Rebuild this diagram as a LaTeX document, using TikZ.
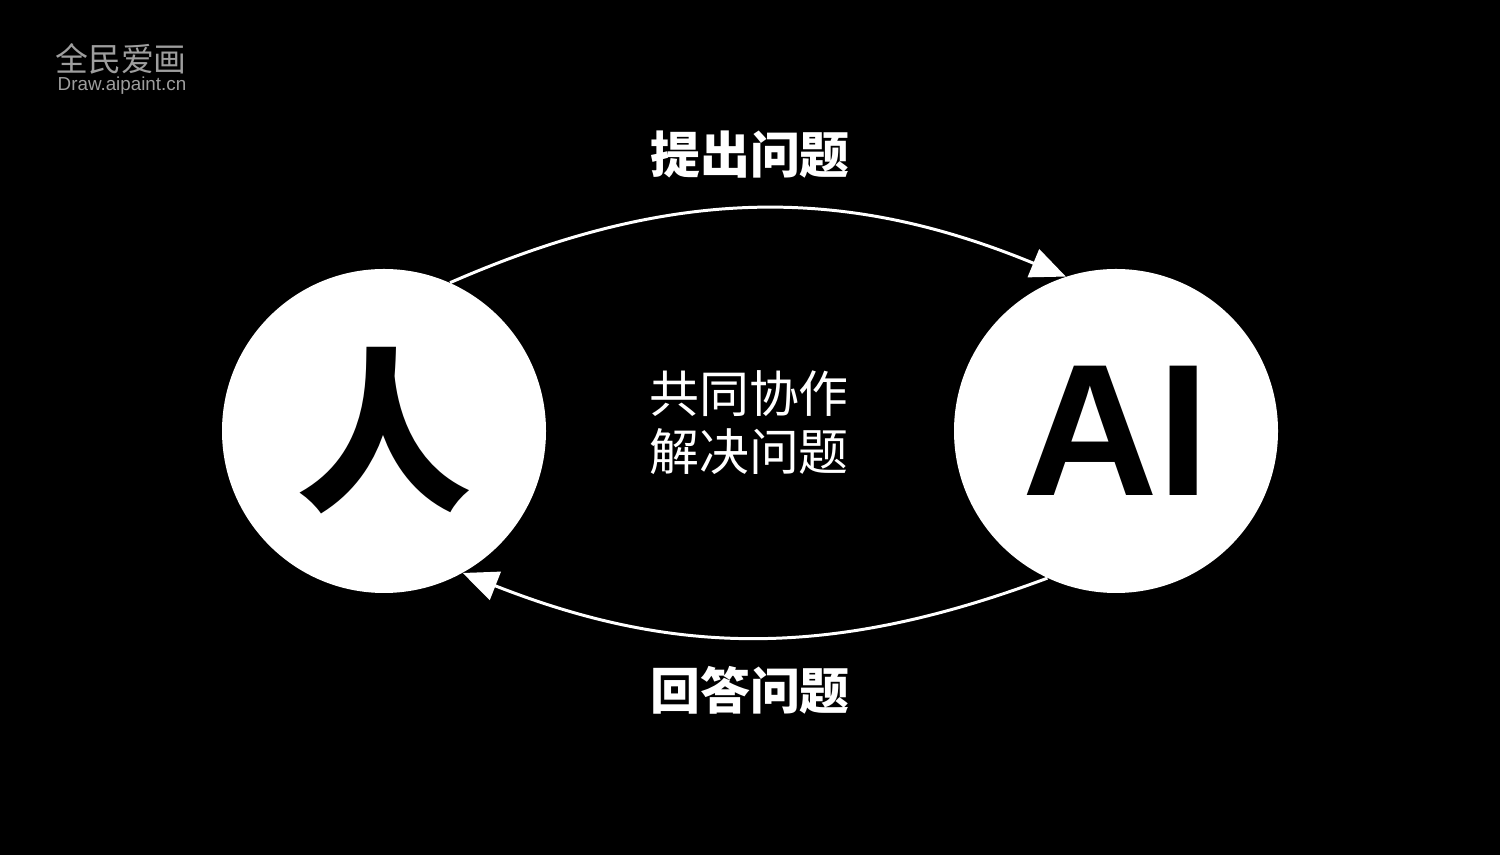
\documentclass[tikz,border=0pt]{standalone}
\usepackage{fontspec}
\setmainfont{Liberation Sans}
\newfontfamily\cjk{Noto Sans CJK SC}
\usetikzlibrary{arrows.meta}

\begin{document}
\begin{tikzpicture}[
	bigcircle/.style={shape=circle,fill=white,inner sep=0pt,minimum size=6.48cm},
	flow/.style={draw=white,line width=1.7pt,-{Triangle[length=20pt,width=17pt,fill=white]}},
	flowlabel/.style={text=white,font=\cjk\bfseries\fontsize{28.4}{34}\selectfont},
	mark gray/.style={text=black!38!white}
	]
	
	\fill[black] (0, 0) rectangle (30, 17.1);
	
	\node[mark gray,font=\cjk\fontsize{18.7}{20}\selectfont] (logo) at (2.42, 15.92) {全民爱画};
	\node[mark gray,font=\fontsize{10.7}{12}\selectfont] (site) at (2.44, 15.38) {Draw.aipaint.cn};
	
	\node[bigcircle,font=\cjk\bfseries\fontsize{100}{104}\selectfont] (human) at (7.68, 8.48) {人};
	\node[bigcircle,font=\bfseries\fontsize{107}{110}\selectfont] (ai) at (22.32, 8.48) {AI};
	
	\node[flowlabel] (ask) at (15, 14.0) {提出问题};
	\node[flowlabel] (answer) at (15, 3.3) {回答问题};
	\node[text=white,align=center,font=\cjk\fontsize{28.4}{33}\selectfont] (mid) at (14.98, 8.64) {共同协作\\解决问题};
	
	\draw[flow] (human.66) to[bend left=23] (ai.108);
	\draw[flow] (ai.245) to[bend left=21] (human.299);
	
\end{tikzpicture}
\end{document}
